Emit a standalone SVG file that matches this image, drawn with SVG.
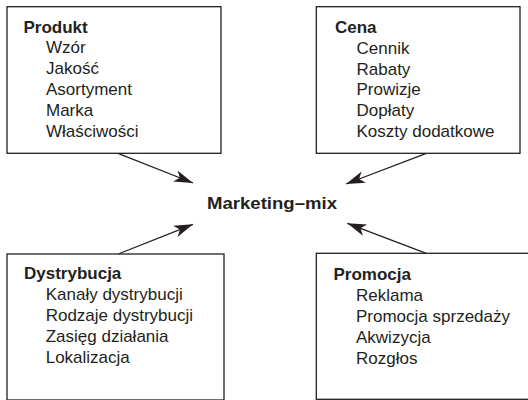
<svg xmlns="http://www.w3.org/2000/svg" width="528" height="400" viewBox="0 0 528 400">
<style>
.box{fill:#fff;stroke:#231f20;stroke-width:1.3}
text{font-family:"Liberation Sans",Arial,sans-serif;fill:#231f20;font-size:17px}
.h{font-weight:bold}
.c{stroke:#231f20;stroke-width:1.3;fill:none}
</style>
<defs>
<marker id="ah" markerUnits="userSpaceOnUse" markerWidth="20" markerHeight="14" refX="19" refY="7" orient="auto" viewBox="0 0 20 14">
<path d="M0,1 L19,7 L0,13 L5,7 z" fill="#231f20"/>
</marker>
</defs>
<rect width="528" height="400" fill="#fff"/>
<g id="connectors">
<line class="c" x1="118" y1="153.3" x2="193" y2="183" marker-end="url(#ah)"/>
<line class="c" x1="426.3" y1="153.3" x2="346" y2="184" marker-end="url(#ah)"/>
<line class="c" x1="118.3" y1="254" x2="193" y2="224.3" marker-end="url(#ah)"/>
<line class="c" x1="426.3" y1="253.3" x2="347.3" y2="223.3" marker-end="url(#ah)"/>
</g>
<g id="center">
<text class="h" x="207" y="209" font-size="18" textLength="130" lengthAdjust="spacingAndGlyphs">Marketing–mix</text>
</g>
<g id="produkt">
<rect class="box" x="7" y="6.7" width="214" height="146.6"/>
<text class="h" x="23.5" y="32.5">Produkt</text>
<text x="46" y="53">Wzór</text>
<text x="46" y="74">Jakość</text>
<text x="46" y="94.7">Asortyment</text>
<text x="46" y="115.5">Marka</text>
<text x="46" y="136.5">Właściwości</text>
</g>
<g id="cena">
<rect class="box" x="316.3" y="6.7" width="203.7" height="146.6"/>
<text class="h" x="335" y="33.3">Cena</text>
<text x="356.5" y="53.5">Cennik</text>
<text x="356.5" y="74.5">Rabaty</text>
<text x="356.5" y="95">Prowizje</text>
<text x="356.5" y="116">Dopłaty</text>
<text x="356.5" y="136.7">Koszty dodatkowe</text>
</g>
<g id="dystrybucja">
<rect class="box" x="7" y="254" width="217" height="146"/>
<text class="h" x="24" y="279">Dystrybucja</text>
<text x="45.7" y="300">Kanały dystrybucji</text>
<text x="45.7" y="321">Rodzaje dystrybucji</text>
<text x="45.7" y="342">Zasięg działania</text>
<text x="45.7" y="363">Lokalizacja</text>
</g>
<g id="promocja">
<rect class="box" x="316.3" y="253.3" width="220" height="146"/>
<text class="h" x="333.5" y="280">Promocja</text>
<text x="356" y="301">Reklama</text>
<text x="356" y="322">Promocja sprzedaży</text>
<text x="356" y="343">Akwizycja</text>
<text x="356" y="364">Rozgłos</text>
</g>
</svg>
